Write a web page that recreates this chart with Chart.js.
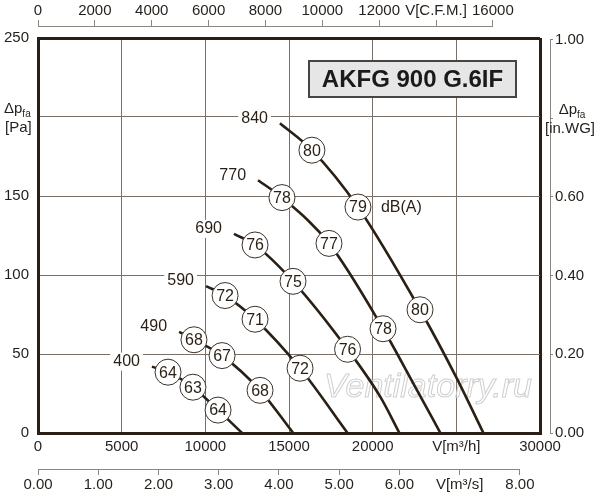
<!DOCTYPE html>
<html>
<head>
<meta charset="utf-8">
<script src="https://cdn.jsdelivr.net/npm/chart.js@4.4.1/dist/chart.umd.min.js"></script>
<style>
  html, body { margin: 0; padding: 0; background: #fff; }
  canvas { display: block; }
</style>
</head>
<body>
<canvas id="chart" width="600" height="500"></canvas>
<script>
// fan speeds in rpm, one curve each: [flow m3/h, pressure Pa]
const speeds = [400, 490, 590, 690, 770, 840];

const curve400 = [[6810, 42], [7770, 38.5], [9260, 29], [10760, 14.5], [12200, 0]];
const curve490 = [[8430, 64], [9320, 59], [11000, 49], [13270, 27], [15250, 0]];
const curve590 = [[10040, 93], [11180, 87], [12970, 72], [15660, 41], [18500, 0]];
const curve690 = [[11710, 126], [12970, 119], [15240, 96], [18500, 53], [20450, 23], [21600, 0]];
const curve770 = [[13150, 160], [14580, 149], [17390, 120], [20620, 66], [22500, 30], [24050, 0]];
const curve840 = [[14460, 196], [16370, 179], [19120, 143], [22830, 78], [24960, 36], [26620, 0]];

// sound level marks: [flow m3/h, pressure Pa, dB(A)]
const marks400 = [[7770, 38.5, 64], [9260, 29, 63], [10760, 14.5, 64]];
const marks490 = [[9320, 59, 68], [11000, 49, 67], [13270, 27, 68]];
const marks590 = [[11180, 87, 72], [12970, 72, 71], [15660, 41, 72]];
const marks690 = [[12970, 119, 76], [15240, 96, 75], [18500, 53, 76]];
const marks770 = [[14580, 149, 78], [17390, 120, 77], [20620, 66, 78]];
const marks840 = [[16370, 179, 80], [19120, 143, 79], [22830, 78, 80]];

// secondary axis ticks
const cfmTicks = [0, 2000, 4000, 6000, 8000, 10000, 12000, 14000, 16000];
const m3sTicks = [0, 1, 2, 3, 4, 5, 6, 7, 8];
const inwgTicks = [0, 0.2, 0.4, 0.6, 0.8, 1.0];

const title = "AKFG 900 G.6IF";

const ink = '#2a1f14';
const gridCol = '#7a7068';
const axisCol = '#8c8680';
const fam = '"Liberation Sans", Arial, sans-serif';

Chart.defaults.font.family = fam;
Chart.defaults.font.size = 15;
Chart.defaults.color = '#231f1a';

const curves = [curve400, curve490, curve590, curve690, curve770, curve840];
const marks = [marks400, marks490, marks590, marks690, marks770, marks840];

const datasets = [];
marks.forEach((m, i) => {
  datasets.push({
    label: 'dB ' + speeds[i],
    data: m.map(p => ({ x: p[0], y: p[1], db: p[2] })),
    showLine: false,
    pointRadius: 13,
    pointBackgroundColor: '#fff',
    pointBorderColor: '#3b3128',
    pointBorderWidth: 1,
    order: 0
  });
});
curves.forEach((c, i) => {
  datasets.push({
    label: speeds[i] + ' rpm',
    rpm: speeds[i],
    data: c.map(p => ({ x: p[0], y: p[1] })),
    showLine: true,
    borderColor: ink,
    borderWidth: 2.6,
    pointRadius: 0,
    cubicInterpolationMode: 'monotone',
    order: 1
  });
});

function edge(v, lo, hi, a, b) { return (v === lo || v === hi) ? a : b; }

function drawDp(ctx, x, y, align) {
  // "Δp" with subscript "fa"
  ctx.font = '15px ' + fam;
  const w1 = ctx.measureText('Δp').width;
  ctx.font = '10px ' + fam;
  const w2 = ctx.measureText('fa').width;
  let x0 = align === 'center' ? x - (w1 + w2) / 2 : x;
  ctx.textAlign = 'left';
  ctx.font = '15px ' + fam;
  ctx.fillText('Δp', x0, y);
  ctx.font = '10px ' + fam;
  ctx.fillText('fa', x0 + w1, y + 5);
}

const extras = {
  id: 'extras',
  beforeDatasetsDraw(chart) {
    const ctx = chart.ctx;
    ctx.save();
    ctx.font = 'italic 34px ' + fam;
    ctx.strokeStyle = '#cfcfcf';
    ctx.lineWidth = 1;
    ctx.textAlign = 'center';
    ctx.textBaseline = 'middle';
    ctx.strokeText('Ventilatorry.ru', 428, 388);
    ctx.restore();
  },
  afterDatasetsDraw(chart) {
    const ctx = chart.ctx;
    ctx.save();
    ctx.textBaseline = 'middle';
    ctx.font = '16px ' + fam;
    chart.data.datasets.forEach((ds, i) => {
      const meta = chart.getDatasetMeta(i);
      if (ds.rpm === undefined) {
        ctx.fillStyle = ink;
        ctx.textAlign = 'center';
        meta.data.forEach((pt, j) => ctx.fillText(String(ds.data[j].db), pt.x, pt.y + 1));
      } else {
        const p0 = meta.data[0];
        const txt = String(ds.rpm);
        const w = ctx.measureText(txt).width;
        const x = p0.x - 12, y = p0.y - 5;
        ctx.fillStyle = '#fff';
        ctx.fillRect(x - w - 3, y - 9, w + 6, 18);
        ctx.fillStyle = ink;
        ctx.textAlign = 'right';
        ctx.fillText(txt, x, y);
      }
    });
    // dB(A) beside the middle mark of the top speed
    const top = chart.getDatasetMeta(marks.length - 1).data[1];
    ctx.textAlign = 'left';
    ctx.fillStyle = ink;
    ctx.fillText('dB(A)', top.x + 23, top.y + 1);
    ctx.restore();
  },
  afterDraw(chart) {
    const ctx = chart.ctx;
    const s = chart.scales;
    ctx.save();
    // secondary axis lines
    ctx.strokeStyle = axisCol;
    ctx.lineWidth = 1;
    ctx.beginPath();
    const yTop = s.xc.bottom - 11.5;
    ctx.moveTo(s.xc.getPixelForValue(cfmTicks[0]), yTop);
    ctx.lineTo(s.xc.getPixelForValue(cfmTicks[cfmTicks.length - 1]), yTop);
    const yBot = s.xs.top + 0.5;
    ctx.moveTo(s.xs.getPixelForValue(m3sTicks[0]), yBot);
    ctx.lineTo(s.xs.getPixelForValue(m3sTicks[m3sTicks.length - 1]), yBot);
    const xR = s.yr.left + 10.5;
    ctx.moveTo(xR, s.yr.getPixelForValue(inwgTicks[0]));
    ctx.lineTo(xR, s.yr.getPixelForValue(inwgTicks[inwgTicks.length - 1]));
    ctx.stroke();

    // axis titles
    ctx.fillStyle = '#231f1a';
    ctx.textBaseline = 'middle';
    const yl = s.y.getPixelForValue(200);
    drawDp(ctx, 4, yl - 8, 'left');
    ctx.font = '15px ' + fam;
    ctx.textAlign = 'left';
    ctx.fillText('[Pa]', 5, yl + 11);
    const yr = s.yr.getPixelForValue(0.8);
    drawDp(ctx, 572, yr - 8, 'center');
    ctx.font = '15px ' + fam;
    ctx.textAlign = 'center';
    ctx.fillText('[in.WG]', 570, yr + 11);

    // model box
    ctx.fillStyle = '#e6e6e6';
    ctx.fillRect(309, 61, 207, 36);
    ctx.strokeStyle = '#4a4440';
    ctx.lineWidth = 2;
    ctx.strokeRect(309, 61, 207, 36);
    ctx.fillStyle = '#1a1a1a';
    ctx.font = 'bold 24px ' + fam;
    ctx.textAlign = 'center';
    ctx.fillText(title, 412.5, 80);
    ctx.restore();
  }
};

new Chart(document.getElementById('chart'), {
  type: 'scatter',
  data: { datasets },
  options: {
    responsive: false,
    animation: false,
    events: [],
    layout: { padding: 0 },
    plugins: { legend: { display: false }, tooltip: { enabled: false } },
    scales: {
      x: {
        type: 'linear', position: 'bottom', weight: 0,
        min: 0, max: 30000,
        afterFit: sc => { sc.height = 36; },
        border: { display: true, color: ink, width: 3 },
        grid: {
          drawTicks: false,
          color: c => edge(c.tick.value, 0, 30000, ink, gridCol),
          lineWidth: c => edge(c.tick.value, 0, 30000, 3, 1)
        },
        ticks: {
          stepSize: 5000, padding: 5, maxRotation: 0, autoSkip: false,
          callback: v => v === 25000 ? 'V[m³/h]' : v
        }
      },
      xs: {
        type: 'linear', position: 'bottom', weight: 1,
        min: 0, max: 30000 / 3600,
        afterFit: sc => { sc.height = 31; },
        afterBuildTicks: sc => { sc.ticks = m3sTicks.map(v => ({ value: v })); },
        border: { display: false },
        grid: { drawOnChartArea: false, drawTicks: true, tickLength: 6, tickColor: axisCol },
        ticks: {
          padding: 1, maxRotation: 0, autoSkip: false,
          callback: v => v === 7 ? 'V[m³/s]' : v.toFixed(2)
        }
      },
      xc: {
        type: 'linear', position: 'top',
        min: 0, max: 30000 / 1.699,
        afterFit: sc => { sc.height = 38; },
        afterBuildTicks: sc => { sc.ticks = cfmTicks.map(v => ({ value: v })); },
        border: { display: false },
        grid: {
          drawOnChartArea: false, drawTicks: true, tickLength: 18, tickColor: axisCol,
          tickBorderDash: [6, 40]
        },
        ticks: {
          padding: 0, maxRotation: 0, autoSkip: false,
          callback: v => v === 14000 ? 'V[C.F.M.]' : v
        }
      },
      y: {
        type: 'linear', position: 'left',
        min: 0, max: 250,
        afterFit: sc => { sc.width = 38; },
        border: { display: true, color: ink, width: 3 },
        grid: {
          drawTicks: false,
          color: c => edge(c.tick.value, 0, 250, ink, gridCol),
          lineWidth: c => edge(c.tick.value, 0, 250, 3, 1)
        },
        ticks: {
          stepSize: 50, padding: 9,
          callback: v => v === 200 ? '' : v
        }
      },
      yr: {
        type: 'linear', position: 'right',
        min: 0, max: 250 / 249.089,
        afterFit: sc => { sc.width = 60; },
        afterBuildTicks: sc => { sc.ticks = inwgTicks.map(v => ({ value: v })); },
        border: { display: false },
        grid: {
          drawOnChartArea: false, drawTicks: true, tickLength: 13, tickColor: axisCol,
          tickBorderDash: [3, 10], tickBorderDashOffset: 3
        },
        ticks: {
          padding: 2,
          callback: v => v === 0.8 ? '' : v.toFixed(2)
        }
      }
    }
  },
  plugins: [extras]
});
</script>
</body>
</html>
